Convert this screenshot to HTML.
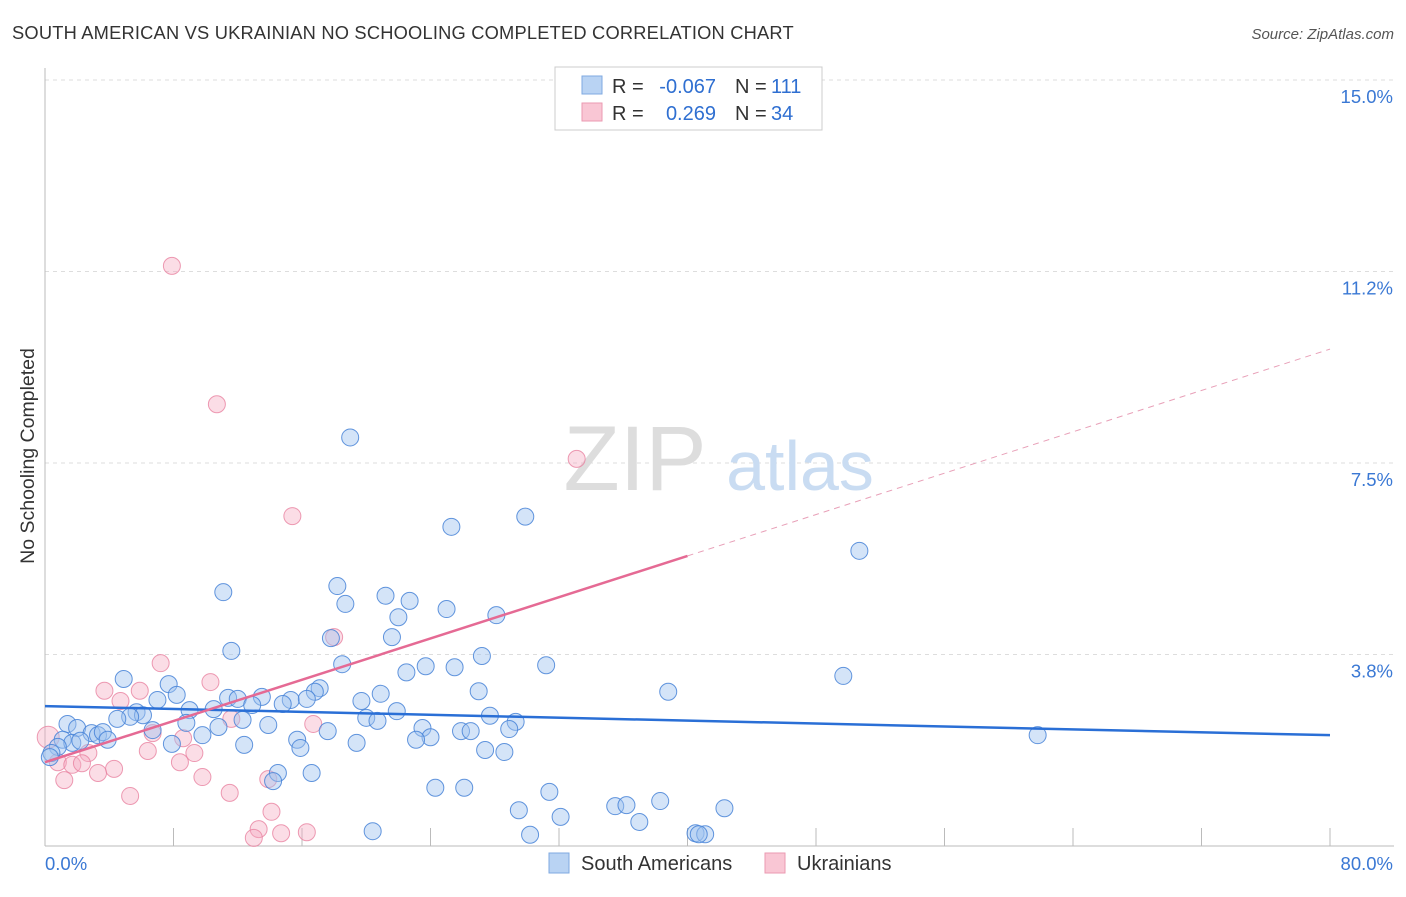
<!DOCTYPE html>
<html><head><meta charset="utf-8"><style>
body{margin:0;background:#fff;font-family:"Liberation Sans",sans-serif}
svg text{font-family:"Liberation Sans",sans-serif}
</style></head><body>
<svg id="c" width="1406" height="892">
<text x="12" y="39" font-size="18.3" letter-spacing="0.2" fill="#333">SOUTH AMERICAN VS UKRAINIAN NO SCHOOLING COMPLETED CORRELATION CHART</text>
<text x="1394" y="39" font-size="15" fill="#555" font-style="italic" text-anchor="end">Source: ZipAtlas.com</text>
<text x="34" y="456" font-size="19.5" fill="#333" text-anchor="middle" transform="rotate(-90 34 456)">No Schooling Completed</text>
<g id="grid"></g>
<g><text x="635" y="490" font-size="92" fill="#ddd" font-family="Liberation Serif" text-anchor="middle">ZIP</text><text x="800" y="490" font-size="70" fill="#c9dcf2" text-anchor="middle">atlas</text></g>
<g id="pts"></g>
<g id="lines"></g>
<g>
<rect x="555" y="67" width="267" height="63" fill="#fff" stroke="#ccc"/>
<rect x="582" y="76" width="20" height="18" fill="#b9d3f3" stroke="#7fa9e0"/>
<rect x="582" y="103" width="20" height="18" fill="#f9c6d4" stroke="#eb9ab2"/>
<text x="612" y="93" font-size="20" fill="#333">R =</text>
<text x="716" y="93" font-size="20" fill="#2f6fd1" text-anchor="end">-0.067</text>
<text x="735" y="93" font-size="20" fill="#333">N =</text>
<text x="771" y="93" font-size="20" fill="#2f6fd1">111</text>
<text x="612" y="120" font-size="20" fill="#333">R =</text>
<text x="716" y="120" font-size="20" fill="#2f6fd1" text-anchor="end">0.269</text>
<text x="735" y="120" font-size="20" fill="#333">N =</text>
<text x="771" y="120" font-size="20" fill="#2f6fd1">34</text>
</g>
<g>
<rect x="549" y="853" width="20" height="20" fill="#b9d3f3" stroke="#7fa9e0"/>
<text x="581" y="870" font-size="20" fill="#333">South Americans</text>
<rect x="765" y="853" width="20" height="20" fill="#f9c6d4" stroke="#eb9ab2"/>
<text x="797" y="870" font-size="20" fill="#333">Ukrainians</text>
</g>
</svg>
<script>
const xTicks=[0,80];
const yTicks=[3.75,7.5,11.25,15];
const yTickLabels=["3.8%","7.5%","11.2%","15.0%"];
const blueX=[19.0,25.3,29.9,50.7,11.1,18.2,18.7,21.2,22.7,25.0,28.1,22.0,17.8,21.6,11.6,18.5,23.7,25.5,27.2,31.2,22.5,4.9,7.7,49.7,38.8,27.0,17.1,16.8,20.9,19.7,8.2,7.0,11.4,13.5,15.3,14.8,12.0,12.9,16.3,10.5,9.0,5.7,6.1,5.3,4.5,21.9,20.0,20.7,27.7,29.3,13.9,12.3,8.8,10.8,1.4,2.0,23.5,25.9,26.5,28.9,17.6,6.7,2.9,3.3,3.6,9.8,15.7,24.0,23.1,1.1,1.7,2.2,3.9,7.9,12.4,19.4,15.9,27.4,28.6,61.8,0.8,0.4,0.3,14.5,14.2,16.6,24.3,26.1,31.4,29.5,32.1,35.5,36.2,38.3,42.3,37.0,20.4,30.2,40.5,41.1,40.7];
const blueY=[8.0,6.25,6.45,5.78,4.97,5.09,4.74,4.9,4.8,4.64,4.52,4.48,4.07,4.09,3.82,3.56,3.52,3.5,3.72,3.54,3.4,3.27,3.17,3.33,3.02,3.03,3.09,3.02,2.98,2.84,2.96,2.86,2.9,2.92,2.86,2.78,2.88,2.76,2.88,2.68,2.66,2.62,2.56,2.53,2.49,2.64,2.51,2.45,2.55,2.43,2.37,2.47,2.41,2.33,2.39,2.31,2.31,2.25,2.25,2.29,2.25,2.27,2.21,2.17,2.23,2.17,2.08,2.13,2.08,2.08,2.02,2.06,2.08,2.0,1.98,2.02,1.92,1.88,1.84,2.17,1.94,1.82,1.74,1.43,1.27,1.43,1.14,1.14,1.06,0.7,0.57,0.78,0.8,0.88,0.74,0.47,0.29,0.22,0.25,0.23,0.23];
const pinkX=[7.9,10.7,33.1,15.4,18.0,7.2,10.3,3.7,5.9,4.7,11.6,16.7,6.7,8.6,0.2,6.4,9.3,2.7,0.8,1.7,2.3,8.4,4.3,3.3,9.8,1.2,13.9,5.3,11.5,14.1,13.3,13.0,14.7,16.3];
const pinkY=[11.36,8.65,7.58,6.46,4.09,3.58,3.21,3.04,3.04,2.84,2.49,2.39,2.21,2.11,2.13,1.86,1.82,1.82,1.64,1.59,1.62,1.64,1.51,1.43,1.35,1.29,1.31,0.98,1.04,0.67,0.33,0.16,0.25,0.27];
const blueTrend=[2.74,2.17];
const pinkTrend=[1.64,5.68,9.73];
const pinkSolidEnd=40;
const X=v=>45+v*16.0625, Y=v=>846-v*51.07;
const NS="http://www.w3.org/2000/svg";
function mk(t,a,p){const e=document.createElementNS(NS,t);for(const k in a)e.setAttribute(k,a[k]);p.appendChild(e);return e;}
const g=document.getElementById('grid');
yTicks.forEach((t,i)=>{const l=mk('line',{x1:45,x2:1394,y1:Y(t),y2:Y(t),stroke:'#ddd','stroke-dasharray':'4,4'},g);


const tx=mk('text',{x:1393,y:Y(t)+23,'font-size':18.5,fill:'#3a78d4','text-anchor':'end'},g);tx.textContent=yTickLabels[i];

});
const ax=mk('line',{x1:45,x2:45,y1:68,y2:846,stroke:'#bbb'},g);


const bx=mk('line',{x1:45,x2:1394,y1:846,y2:846,stroke:'#bbb'},g);


for(let i=1;i<=10;i++){const t=mk('line',{x1:X(i*8),x2:X(i*8),y1:828,y2:846,stroke:'#bbb'},g);

}
xTicks.forEach(t=>{const tx=mk('text',{x:t===0?45:1393,y:870,'font-size':18.5,fill:'#3a78d4','text-anchor':t===0?'start':'end'},g);tx.textContent=t.toFixed(1)+'%';

});
const p=document.getElementById('pts');
pinkX.forEach((x,i)=>{const c=mk('circle',{cx:X(x),cy:Y(pinkY[i]),r:x<0.5?11:8.5,fill:'rgba(246,170,192,0.4)',stroke:'rgba(232,130,160,0.8)','stroke-width':1},p);

});
blueX.forEach((x,i)=>{const c=mk('circle',{cx:X(x),cy:Y(blueY[i]),r:8.5,fill:'rgba(160,196,240,0.45)',stroke:'rgba(70,130,215,0.85)','stroke-width':1},p);

});
const L=document.getElementById('lines');
const b=mk('line',{x1:X(0),y1:Y(blueTrend[0]),x2:X(80),y2:Y(blueTrend[1]),stroke:'#2a6fd6','stroke-width':2.5},L);


const ps=mk('line',{x1:X(0),y1:Y(pinkTrend[0]),x2:X(pinkSolidEnd),y2:Y(pinkTrend[1]),stroke:'#e56a94','stroke-width':2.5},L);


const pd=mk('line',{x1:X(pinkSolidEnd),y1:Y(pinkTrend[1]),x2:X(80),y2:Y(pinkTrend[2]),stroke:'#e8a0b8','stroke-width':1,'stroke-dasharray':'6,5'},L);


</script>
</body></html>
